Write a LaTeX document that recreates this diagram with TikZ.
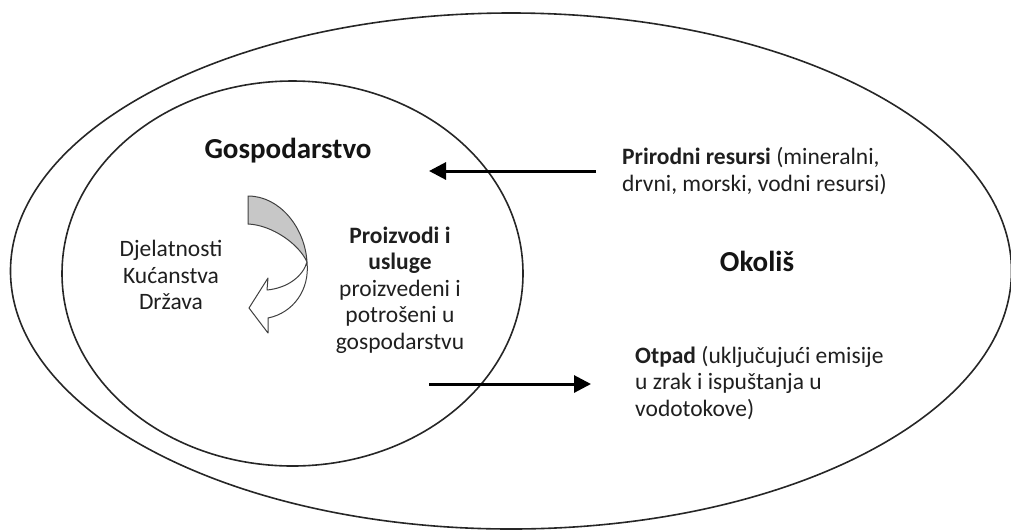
\documentclass[tikz,border=0pt]{standalone}
\usepackage{fontspec}
\setmainfont{Carlito}
\usetikzlibrary{arrows.meta}
\begin{document}
\begin{tikzpicture}[x=1pt,y=-1pt,
  ring/.style={draw=black!85, line width=1.6pt},
  flow/.style={line width=3pt, -{Triangle[length=17pt,width=17pt]}},
  body/.style={font=\fontsize{23.5}{26.5}\selectfont, text=black!88, inner sep=0pt},
  head/.style={font=\fontsize{29}{33}\selectfont\bfseries, text=black!92, inner sep=0pt},
  blockarrow/.style={draw=black!75, line width=1pt, line join=round}]
\useasboundingbox (0,0) rectangle (1011,531);
\draw[ring] (511,271) ellipse [x radius=500.5, y radius=258];
\draw[ring] (292.5,273.5) ellipse [x radius=230.5, y radius=192.5];

\node[head] (gosp) at (288,151) {Gospodarstvo};
\node[head] (okolis) at (757,261) {Okoliš};
\node[body, align=center] (djel) at (171,275) {Djelatnosti\\Kućanstva\\Država};
\node[body, align=center] (proiz) at (400,290) {\textbf{Proizvodi i}\\\textbf{usluge}\\proizvedeni i\\potrošeni u\\gospodarstvu};
\node[body, align=left, anchor=west] (prir) at (622,171) {\textbf{Prirodni resursi} (mineralni,\\drvni, morski, vodni resursi)};
\node[body, align=left, anchor=west] (otpad) at (635,383) {\textbf{Otpad} (uključujući emisije\\u zrak i ispuštanja u\\vodotokove)};

\coordinate (inStart) at (596,171);
\coordinate (inTip) at (429,171);
\coordinate (outStart) at (429,384);
\coordinate (outTip) at (591,384);
\draw[flow] (inStart) -- (inTip);
\draw[flow] (outStart) -- (outTip);

\filldraw[blockarrow, fill=black!22] (248,196) .. controls (280,196) and (305,228) .. (307,262)
  .. controls (299,244) and (272,225) .. (248,224) -- cycle;
\filldraw[blockarrow, fill=white] (307,262) .. controls (310,290) and (293,313) .. (268,318)
  -- (268,333) -- (249,308) -- (268,278) -- (267,290)
  .. controls (288,288) and (303,276) .. (307,262) -- cycle;
\end{tikzpicture}
\end{document}
